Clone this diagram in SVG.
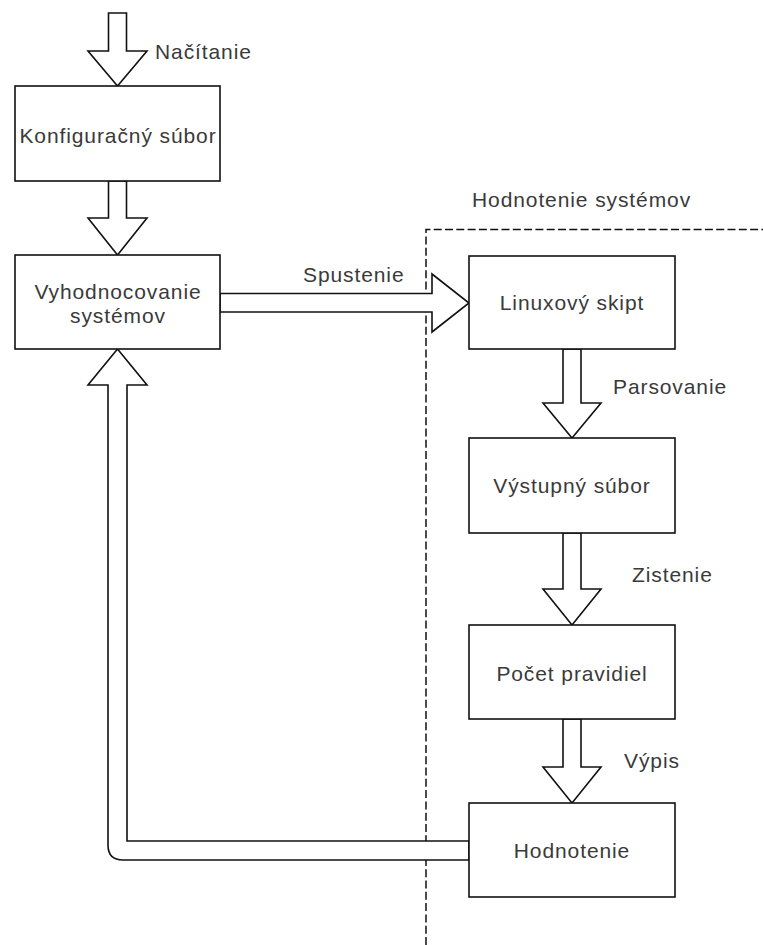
<svg xmlns="http://www.w3.org/2000/svg" width="763" height="945" viewBox="0 0 763 945">
<style>
  .box { fill: #ffffff; stroke: #111111; stroke-width: 1.6; }
  .arr { fill: #ffffff; stroke: #111111; stroke-width: 1.6; stroke-linejoin: miter; }
  .grp { fill: none; stroke: #111111; stroke-width: 1.5; stroke-dasharray: 8 3.3; }
  text { font-family: "Liberation Sans", Arial, Helvetica, sans-serif; font-size: 21px; fill: #3a3a3a; letter-spacing: 0.9px; }
  .c { text-anchor: middle; }
</style>
<rect width="763" height="945" fill="#ffffff"/>

<g id="group-hodnotenie-systemov">
  <path class="grp" d="M426,945 L426,229.5 L770,229.5"/>
  <text x="472" y="207">Hodnotenie systémov</text>
</g>

<g id="connectors">
  <!-- Načítanie -->
  <path class="arr" d="M108.5,13 L126.5,13 L126.5,51 L147,51 L117.5,86 L88,51 L108.5,51 Z"/>
  <text x="155" y="59">Načítanie</text>
  <!-- config -> vyhodnocovanie -->
  <path class="arr" d="M108.5,181 L126.5,181 L126.5,218 L147,218 L117.5,255 L88,218 L108.5,218 Z"/>
  <!-- Spustenie -->
  <path class="arr" d="M220,293.5 L432,293.5 L432,274 L469,303 L432,332 L432,312 L220,312 Z"/>
  <text x="303" y="282">Spustenie</text>
  <!-- Parsovanie -->
  <path class="arr" d="M563,349 L581,349 L581,403 L601,403 L572,438 L543,403 L563,403 Z"/>
  <text x="613" y="394">Parsovanie</text>
  <!-- Zistenie -->
  <path class="arr" d="M563,533 L581,533 L581,589 L601,589 L572,625 L543,589 L563,589 Z"/>
  <text x="632" y="582">Zistenie</text>
  <!-- Výpis -->
  <path class="arr" d="M563,719 L581,719 L581,767 L601,767 L572,803 L543,767 L563,767 Z"/>
  <text x="624" y="768">Výpis</text>
  <!-- feedback loop -->
  <path class="arr" d="M469,841 L127,841 L127,385 L147,385 L117.5,349 L88,385 L108,385 L108,845 Q108,860 123,860 L469,860 Z"/>
</g>

<g id="node-konfiguracny-subor">
  <rect class="box" x="15" y="86" width="205" height="95"/>
  <text class="c" x="118" y="143">Konfiguračný súbor</text>
</g>

<g id="node-vyhodnocovanie">
  <rect class="box" x="15" y="255" width="205" height="94"/>
  <text class="c" x="118" y="299">Vyhodnocovanie</text>
  <text class="c" x="118" y="323">systémov</text>
</g>

<g id="node-linuxovy-skript">
  <rect class="box" x="469" y="256" width="206" height="93"/>
  <text class="c" x="572" y="310">Linuxový skipt</text>
</g>

<g id="node-vystupny-subor">
  <rect class="box" x="469" y="438" width="206" height="95"/>
  <text class="c" x="572" y="493">Výstupný súbor</text>
</g>

<g id="node-pocet-pravidiel">
  <rect class="box" x="469" y="625" width="206" height="94"/>
  <text class="c" x="572" y="681">Počet pravidiel</text>
</g>

<g id="node-hodnotenie">
  <rect class="box" x="469" y="803" width="206" height="94"/>
  <text class="c" x="572" y="858">Hodnotenie</text>
</g>
</svg>
